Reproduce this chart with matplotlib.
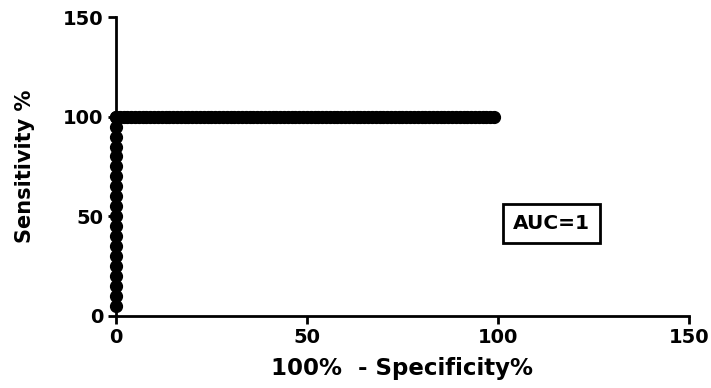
import matplotlib

matplotlib.use("Agg")
import matplotlib.pyplot as plt

# ROC points: sensitivity climbs at 0% false positives, then stays at 100%
vert_x = [0] * 20
vert_y = list(range(5, 101, 5))
horiz_x = list(range(0, 100))
horiz_y = [100] * 100

x_ticks = [0, 50, 100, 150]
y_ticks = [0, 50, 100, 150]
auc_label = "AUC=1"

plt.rcParams["font.family"] = ["DejaVu Sans"]
plt.rcParams["font.weight"] = "bold"

fig = plt.figure(figsize=(7.11, 3.88), dpi=100)
ax = fig.add_axes([0.163, 0.186, 0.806, 0.770])

ax.plot(horiz_x, horiz_y, "o", color="black", markersize=8.5, clip_on=False, zorder=3)
ax.plot(vert_x, vert_y, "o", color="black", markersize=8.5, clip_on=False, zorder=3)

ax.set_xlim(0, 150)
ax.set_ylim(0, 150)
ax.set_xticks(x_ticks)
ax.set_yticks(y_ticks)
ax.tick_params(length=6, width=2, labelsize=14, pad=3)
for lbl in ax.get_xticklabels() + ax.get_yticklabels():
    lbl.set_fontweight("bold")
ax.spines["top"].set_visible(False)
ax.spines["right"].set_visible(False)
ax.spines["left"].set_linewidth(2)
ax.spines["bottom"].set_linewidth(2)

ax.set_xlabel("100%  - Specificity%", fontsize=16.5, fontweight="bold", labelpad=7)
ax.set_ylabel("Sensitivity %", fontsize=15, fontweight="bold", labelpad=20)

ax.text(114, 46.5, auc_label, fontsize=14.5, fontweight="bold", ha="center", va="center",
        bbox=dict(boxstyle="square,pad=0.5", facecolor="white", edgecolor="black", linewidth=2))

fig.savefig("out.png", dpi=100)
